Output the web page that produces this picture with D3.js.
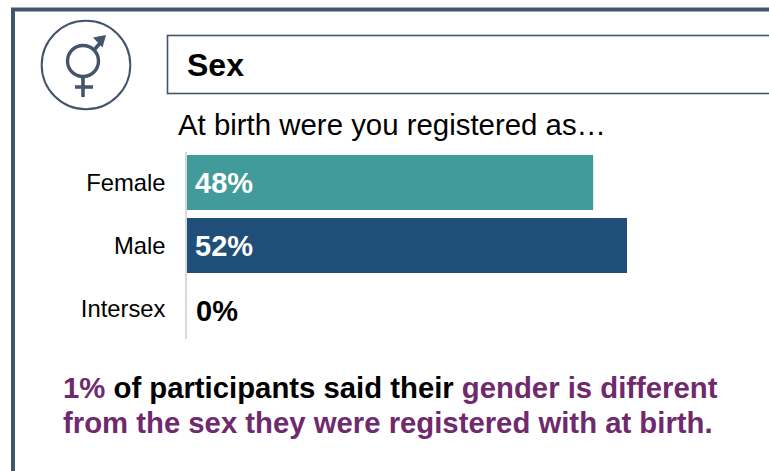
<!DOCTYPE html>
<html>
<head>
<meta charset="utf-8">
<script src="https://cdn.jsdelivr.net/npm/d3@7/dist/d3.min.js"></script>
<style>
html,body{margin:0;padding:0;background:#fff;overflow:hidden}
svg{display:block}
text{font-family:"Liberation Sans",Arial,sans-serif}
</style>
</head>
<body>
<svg id="c" width="769" height="471"></svg>
<script>
const categories = ["Female","Male","Intersex"];
const values = [48,52,0];
const barColors = ["#419b9a","#1f4e79","#1f4e79"];
const labelColors = ["#ffffff","#ffffff","#000000"];
const svg = d3.select("#c");
const ink = "#44546a", purple = "#6f2a6e";

// frame
svg.append("path").attr("d","M13,471V9.5H769").attr("fill","none").attr("stroke",ink).attr("stroke-width",4);

// icon
const icon = svg.append("g").attr("fill","none").attr("stroke",ink);
icon.append("circle").attr("cx",86).attr("cy",65).attr("r",44.3).attr("stroke-width",2);
icon.append("circle").attr("cx",83).attr("cy",61).attr("r",15.5).attr("stroke-width",3.4);
icon.append("path").attr("d","M83,77V97M75,87H93M94,50L102,41").attr("stroke-width",3.6);
svg.append("path").attr("d","M93,37.5L106,35L102.5,47.5Z").attr("fill",ink);

// title box
svg.append("rect").attr("x",167.5).attr("y",35.5).attr("width",640).attr("height",58)
  .attr("fill","#fff").attr("stroke",ink).attr("stroke-width",1.6);
svg.append("text").attr("x",187).attr("y",76).attr("font-size",32).attr("font-weight",700).attr("fill","#000").text("Sex");
svg.append("text").attr("x",178).attr("y",135).attr("font-size",29.4).attr("fill","#000").text("At birth were you registered as…");

// chart
const x = d3.scaleLinear().domain([0,52]).range([187,627]);
const y = d3.scaleBand().domain(categories).range([151,340]).paddingInner(8/63).paddingOuter(4/63);
svg.selectAll("rect.bar").data(categories).join("rect").attr("class","bar")
  .attr("x",x(0)).attr("y",d=>y(d))
  .attr("width",(d,i)=>x(values[i])-x(0)).attr("height",y.bandwidth())
  .attr("fill",(d,i)=>barColors[i]);
const axis = d3.axisLeft(y).tickSize(0).tickPadding(20.5);
const ag = svg.append("g").attr("transform","translate(186,0)").call(axis);
ag.select(".domain").attr("stroke","#d9d9d9").attr("stroke-width",2).attr("d","M0,152V339");
ag.selectAll("text").attr("font-size",23.8).attr("fill","#000").attr("dy","0.37em").style("font-family",'"Liberation Sans",Arial,sans-serif');
svg.selectAll("text.val").data(categories).join("text").attr("class","val")
  .attr("x",(d,i)=>i===2?196:195).attr("y",(d,i)=>y(d)+y.bandwidth()/2+(i===2?12:10))
  .attr("font-size",29).attr("font-weight",700)
  .attr("fill",(d,i)=>labelColors[i]).text((d,i)=>values[i]+"%");

// note
const t1 = svg.append("text").attr("x",63).attr("y",398).attr("font-size",29.3).attr("font-weight",700).attr("fill","#000");
t1.append("tspan").attr("fill",purple).text("1%");
t1.append("tspan").text(" of participants said their ");
t1.append("tspan").attr("fill",purple).text("gender is different");
svg.append("text").attr("x",63).attr("y",433).attr("font-size",29.3).attr("font-weight",700).attr("fill",purple)
  .text("from the sex they were registered with at birth.");
</script>
</body>
</html>
